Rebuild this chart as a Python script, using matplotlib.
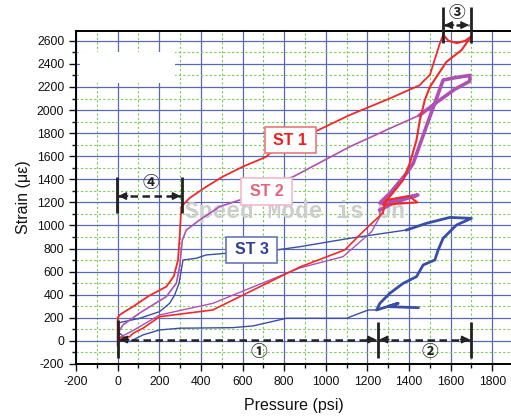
import matplotlib
matplotlib.use("Agg")
import matplotlib.pyplot as plt
from matplotlib.patches import Rectangle
from matplotlib.ticker import MultipleLocator

# ---------------- data ----------------
# ST 1 (red)
st1_low_p = [0, 0, 10, 34, 74, 150, 234, 270, 290, 298, 306, 346, 426, 505, 601, 715, 731, 947,
             1115, 1308, 1452, 1466, 1500, 1548, 1564]
st1_low_s = [-40, 200, 225, 254, 297, 390, 470, 560, 701, 903, 1163, 1238, 1336, 1423, 1509, 1596,
             1626, 1812, 1957, 2101, 2216, 2245, 2303, 2577, 2650]
st1_high_p = [1564, 1590, 1630, 1670, 1700, 1652, 1580, 1532, 1500, 1476, 1452, 1436, 1404, 1372,
              1322, 1274, 1440, 1400, 1290, 1274]
st1_high_s = [2650, 2600, 2580, 2600, 2640, 2519, 2418, 2288, 2200, 2087, 1913, 1740, 1540, 1394,
              1281, 1180, 1200, 1255, 1220, 1108]
st1_ret_p = [1274, 1202, 1091, 875, 457, 202, 122, 74, 58, 10, 0]
st1_ret_s = [1108, 987, 788, 640, 268, 210, 110, 66, 37, 26, 0]

# ST 2 (magenta)
st2_low_p = [0, 10, 26, 50, 106, 234, 282, 298, 311, 330, 394, 490, 587, 700, 843, 1019, 1115,
             1308, 1452]
st2_low_s = [37, 95, 139, 170, 242, 384, 499, 643, 874, 961, 1048, 1163, 1221, 1320, 1422, 1590,
             1682, 1841, 1957]
st2_high_p = [1452, 1548, 1620, 1692, 1692, 1620, 1564, 1500, 1420, 1388, 1308, 1260, 1442,
              1330, 1260]
st2_high_s = [1957, 2087, 2180, 2250, 2300, 2280, 2260, 1942, 1538, 1452, 1279, 1195, 1264,
              1200, 1134]
st2_ret_p = [1260, 1260, 1220, 1083, 875, 458, 202, 74, 18, 0]
st2_ret_s = [1134, 1076, 946, 730, 632, 326, 225, 90, 37, 20]

# ST 3 (blue)
st3_low_p = [0, 2, 10, 106, 202, 250, 274, 295, 306, 314, 378, 426, 522, 763, 875, 1115, 1388]
st3_low_s = [153, 167, 159, 196, 254, 326, 398, 499, 615, 701, 716, 745, 759, 788, 816, 889, 961]
st3_high_p = [1388, 1484, 1596, 1700, 1628, 1564, 1540, 1524, 1468, 1436, 1372, 1308, 1260,
              1244, 1348, 1300, 1444]
st3_high_s = [961, 1019, 1070, 1062, 1004, 889, 788, 701, 658, 557, 499, 413, 326, 268, 326,
              297, 288]
st3_ret_p = [1244, 1204, 1099, 811, 651, 554, 298, 202, 122, 74, 58, 10, 2]
st3_ret_s = [268, 268, 196, 196, 130, 115, 110, 95, 52, 9, -6, 66, 40]

series_names = ["ST 1", "ST 2", "ST 3"]
x_ticks = list(range(-200, 1801, 200))
y_ticks = list(range(-200, 2601, 200))

# ---------------- figure ----------------
plt.rcParams['font.family'] = ['Liberation Sans', 'DejaVu Sans']
plt.rcParams['axes.unicode_minus'] = False
fig = plt.figure(figsize=(5.11, 4.16), dpi=100)
ax = fig.add_axes([76 / 511, 52 / 416, 1 - 76 / 511, (364 - 31) / 416])
ax.set_xlim(-200, 1890)
ax.set_ylim(-200, 2685)

ax.xaxis.set_minor_locator(MultipleLocator(100))
ax.yaxis.set_minor_locator(MultipleLocator(100))
ax.set_xticks(x_ticks)
ax.set_yticks(y_ticks)
ax.tick_params(which='major', direction='out', length=5, width=1, labelsize=8.8, colors='#111')
ax.tick_params(which='minor', direction='out', length=3, width=1, colors='#111')
ax.grid(which='major', color='#5868b8', lw=0.9, zorder=0)
ax.grid(which='minor', color='#78cc55', lw=0.8, ls=(0, (2, 2)), zorder=0)
ax.set_axisbelow(True)
for s in ['left', 'bottom', 'top']:
    ax.spines[s].set_linewidth(1.4)
    ax.spines[s].set_color('black')
ax.spines['right'].set_visible(False)

ax.set_xlabel("Pressure (psi)", fontsize=11.5, labelpad=7, color='#111')
ax.set_ylabel("Strain (με)", fontsize=11.5, labelpad=4, color='#111')

# white blank block (top-left)
ax.add_patch(Rectangle((-183, 2234), 457, 268, facecolor='white', edgecolor='none', zorder=1))

# watermark
ax.text(322, 1125, "Speed Mode is On", family='Liberation Mono', fontweight='bold',
        fontsize=16.5, color='#cdcdcd', ha='left', va='center', zorder=1.5)

# curves
blue = '#3a4ea8'
mag = '#b050b4'
red = '#f02a2a'
ax.plot(st3_low_p, st3_low_s, color=blue, lw=1.0, zorder=3)
ax.plot(st3_high_p, st3_high_s, color=blue, lw=2.0, zorder=3)
ax.plot(st3_ret_p, st3_ret_s, color=blue, lw=1.0, zorder=3)
ax.plot(st2_low_p, st2_low_s, color=mag, lw=1.2, zorder=3)
ax.plot(st2_high_p, st2_high_s, color=mag, lw=2.6, zorder=3)
ax.plot(st2_ret_p, st2_ret_s, color=mag, lw=1.0, zorder=3)
ax.plot(st1_low_p, st1_low_s, color=red, lw=1.3, zorder=3.1)
ax.plot(st1_high_p, st1_high_s, color=red, lw=1.5, zorder=3.1)
ax.plot(st1_ret_p, st1_ret_s, color=red, lw=1.2, zorder=3.1)

# series label boxes
boxes = [((707, 1628), 245, 225, '#e87878', '#e82020'),
         ((595, 1177), 242, 232, '#f4b8c8', '#e8607a'),
         ((523, 673), 241, 230, '#6676ba', '#2e3f92')]
for name, (xy, w, h, ec, tc) in zip(series_names, boxes):
    ax.add_patch(Rectangle(xy, w, h, facecolor='white', edgecolor=ec, lw=1.2, zorder=5))
    ax.text(xy[0] + w / 2, xy[1] + h / 2, name, color=tc, fontsize=11.5, fontweight='bold',
            ha='center', va='center', zorder=6)

# stage markers
dark = '#222222'
def vbar(x, y0, y1):
    ax.plot([x, x], [y0, y1], color=dark, lw=2.0, zorder=7, clip_on=False,
            solid_capstyle='butt')

def darrow(x0, x1, y):
    ax.plot([x0, x1], [y, y], color=dark, lw=1.8, ls=(0, (3, 1.8)), zorder=7, clip_on=False)
    for xa, xb in ((x0 + 45, x0), (x1 - 45, x1)):
        ax.annotate('', xy=(xb, y), xytext=(xa, y),
                    arrowprops=dict(arrowstyle='-|>,head_length=0.45,head_width=0.22',
                                    color=dark, lw=1.2, shrinkA=0, shrinkB=0),
                    zorder=8, annotation_clip=False)

circ = ['Noto Sans CJK SC', 'DejaVu Sans']
# (1) and (2)
vbar(0, -150, 180)
vbar(1250, -150, 167)
vbar(1700, -150, 167)
darrow(8, 1242, 12)
darrow(1258, 1692, 12)
ax.text(678, -95, "①", family=circ, fontsize=12, fontweight='bold', ha='center', va='center',
        color=dark, zorder=8)
ax.text(1500, -95, "②", family=circ, fontsize=12, fontweight='bold', ha='center', va='center',
        color=dark, zorder=8)
# (3)
vbar(1561, 2577, 2894)
vbar(1697, 2577, 2894)
darrow(1569, 1689, 2736)
ax.text(1630, 2840, "③", family=circ, fontsize=12, fontweight='bold', ha='center', va='center',
        color=dark, zorder=8, clip_on=False)
# (4)
vbar(-5, 1105, 1422)
vbar(311, 1105, 1422)
darrow(3, 303, 1255)
ax.text(158, 1368, "④", family=circ, fontsize=12, fontweight='bold', ha='center', va='center',
        color=dark, zorder=8)

fig.savefig("out.png", dpi=100)
